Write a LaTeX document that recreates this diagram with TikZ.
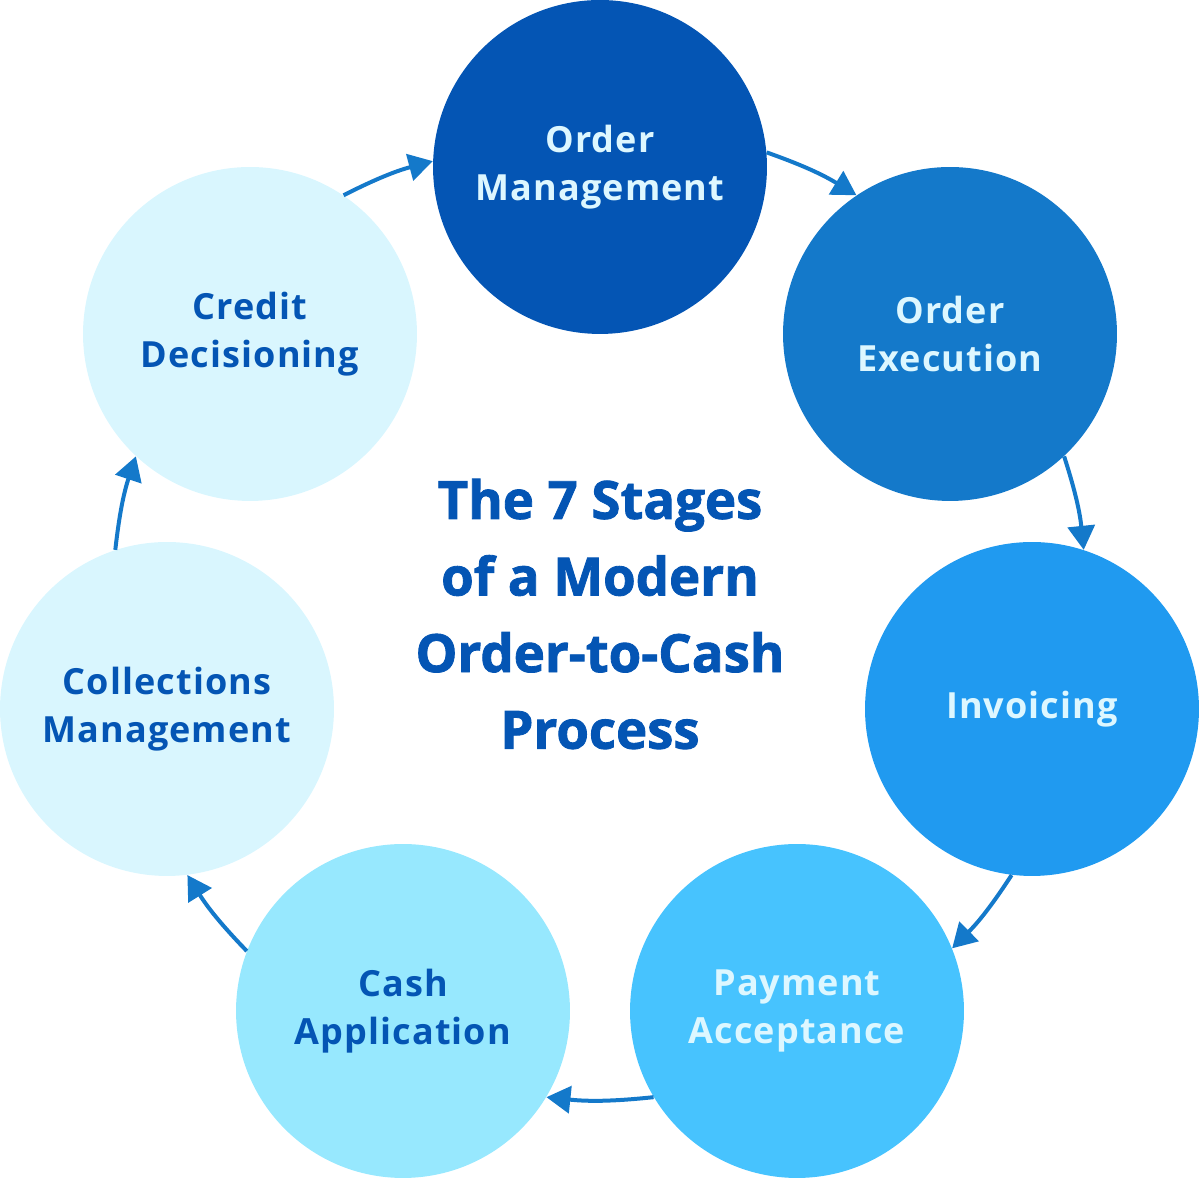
\documentclass[tikz,border=0pt]{standalone}
\usepackage{fontspec}
\setmainfont{Open Sans}[LetterSpace=3]
\newfontfamily\titlefont{Open Sans}[FakeBold=1.6]
\usetikzlibrary{arrows.meta}

\definecolor{omblue}{HTML}{0455B4}
\definecolor{oeblue}{HTML}{1479CA}
\definecolor{invblue}{HTML}{209AF0}
\definecolor{payblue}{HTML}{47C3FE}
\definecolor{cashblue}{HTML}{97E8FE}
\definecolor{paleblue}{HTML}{D9F6FE}
\definecolor{darktext}{HTML}{0455B4}
\definecolor{lighttext}{HTML}{DDF7FF}
\definecolor{arrowblue}{HTML}{1479CA}

\begin{document}
\begin{tikzpicture}[x=0.02cm,y=0.02cm,
        stage/.style={circle,minimum size=6.68cm,inner sep=0pt,align=center,
            font=\bfseries\fontsize{20.5}{27.2}\selectfont},
        darkstage/.style={stage,text=lighttext},
        lightstage/.style={stage,text=darktext},
        flow/.style={draw=arrowblue,line width=0.08cm,-{Triangle[length=0.48cm,width=0.54cm]}}]
        \useasboundingbox (0,0) rectangle (1200,1179);
        % the seven stages
        \node[darkstage,fill=omblue] (om) at (600,1012) {Order\\Management};
        \node[darkstage,fill=oeblue] (oe) at (950,845) {Order\\Execution};
        \node[darkstage,fill=invblue] (inv) at (1032,470) {Invoicing};
        \node[darkstage,fill=payblue] (pay) at (797,168) {Payment\\Acceptance};
        \node[lightstage,fill=cashblue] (cash) at (403,168) {Cash\\Application};
        \node[lightstage,fill=paleblue] (coll) at (167,470) {Collections\\Management};
        \node[lightstage,fill=paleblue] (cred) at (250,845) {Credit\\Decisioning};
        % title
        \node[align=center,text=darktext,font=\titlefont\bfseries\fontsize{30}{43.6}\selectfont]
            (title) at (600,565) {The 7 Stages\\of a Modern\\Order-to-Cash\\Process};
        % cycle
        \draw[flow] (om.5) to[bend left=6] (oe.124);
        \draw[flow] (oe.-47) to[bend left=6] (inv.72);
        \draw[flow] (inv.263) to[bend left=6] (pay.22);
        \draw[flow] (pay.211) to[bend left=6] (cash.329);
        \draw[flow] (cash.159) to[bend left=6] (coll.-83);
        \draw[flow] (coll.108) to[bend left=6] (cred.227);
        \draw[flow] (cred.56) to[bend left=6] (om.178);
\end{tikzpicture}
\end{document}
